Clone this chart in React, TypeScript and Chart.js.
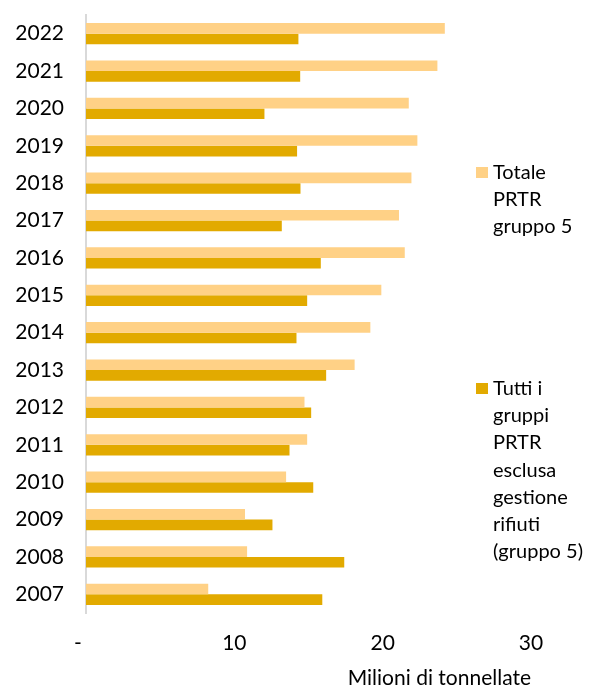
import React, { useEffect, useRef } from "react";
import { Chart, registerables } from "chart.js";

Chart.register(...registerables);

const years = ["2022", "2021", "2020", "2019", "2018", "2017", "2016", "2015", "2014", "2013", "2012", "2011", "2010", "2009", "2008", "2007"];
const totaleGruppo5 = [24.19, 23.69, 21.76, 22.34, 21.94, 21.1, 21.49, 19.91, 19.17, 18.11, 14.73, 14.91, 13.49, 10.72, 10.86, 8.24];
const altriGruppi = [14.32, 14.44, 12.03, 14.23, 14.46, 13.2, 15.83, 14.91, 14.19, 16.19, 15.18, 13.72, 15.32, 12.57, 17.41, 15.93];
const seriesNames = [
  ["Totale", "PRTR", "gruppo 5"],
  ["Tutti i", "gruppi", "PRTR", "esclusa", "gestione", "rifiuti", "(gruppo 5)"],
];
const xTickValues = [0, 10, 20, 30];
const xTitle = "Milioni di tonnellate";
const colors = ["#FFD186", "#E2AA00"];
const FONT = "Lato, 'Open Sans', sans-serif";

const legendPlugin = {
  id: "sideLegend",
  afterDraw(chart: any) {
    const ctx = chart.ctx;
    ctx.save();
    ctx.font = `20px ${FONT}`;
    ctx.textBaseline = "alphabetic";
    ctx.textAlign = "left";
    const starts = [179, 395];
    const lineH = 27.2;
    seriesNames.forEach((lines, i) => {
      const y0 = starts[i];
      ctx.fillStyle = colors[i];
      ctx.fillRect(476, y0 - 12, 12, 11);
      ctx.fillStyle = "#000";
      lines.forEach((t, j) => ctx.fillText(t, 493, y0 + j * lineH));
    });
    ctx.restore();
  },
};

export default function App() {
  const ref = useRef<HTMLCanvasElement>(null);
  useEffect(() => {
    document.body.style.margin = "0";
    document.body.style.overflow = "hidden";
    const chart = new Chart(ref.current!, {
      type: "bar",
      data: {
        labels: years,
        datasets: [
          { label: "Totale PRTR gruppo 5", data: totaleGruppo5, backgroundColor: colors[0], borderWidth: 0 },
          { label: "Tutti i gruppi PRTR esclusa gestione rifiuti (gruppo 5)", data: altriGruppi, backgroundColor: colors[1], borderWidth: 0 },
        ],
      },
      options: {
        indexAxis: "y",
        animation: false,
        responsive: false,
        datasets: { bar: { barPercentage: 1, categoryPercentage: 0.57 } },
        layout: { padding: { left: 0, right: 67, top: 15, bottom: 0 } },
        plugins: { legend: { display: false }, tooltip: { enabled: false } },
        scales: {
          x: {
            min: 0,
            max: 30,
            afterBuildTicks(scale: any) {
              scale.ticks = xTickValues.map((v) => ({ value: v }));
            },
            afterFit(scale: any) {
              scale.height = 75;
              scale.paddingLeft = 0;
              scale.paddingRight = 0;
            },
            grid: { display: false },
            border: { display: false },
            ticks: {
              padding: 10,
              color: "#000",
              font: { family: FONT, size: 21 },
              callback: (v: any) => (Number(v) === 0 ? "-   " : String(v)),
            },
            title: {
              display: true,
              text: xTitle,
              align: "end",
              color: "#000",
              font: { family: FONT, size: 21 },
              padding: { top: 0, bottom: -3 },
            },
          },
          y: {
            afterFit(scale: any) {
              scale.width = 86;
              scale.paddingTop = 0;
              scale.paddingBottom = 0;
            },
            grid: { display: false },
            border: { display: true, color: "#d9d9d9", width: 2 },
            ticks: {
              padding: 14,
              color: "#000",
              font: { family: FONT, size: 21 },
            },
          },
        },
      },
      plugins: [legendPlugin],
    } as any);
    return () => chart.destroy();
  }, []);
  return (
    <div style={{ width: 598, height: 688 }}>
      <canvas ref={ref} width={598} height={688} style={{ display: "block" }} />
    </div>
  );
}
